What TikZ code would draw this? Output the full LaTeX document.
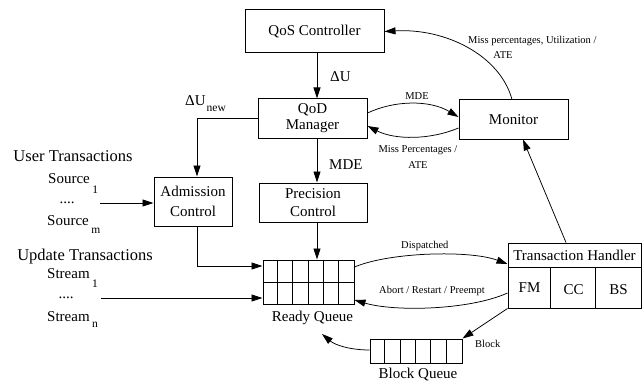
\documentclass[tikz,border=0pt]{standalone}
\usepackage{fontspec}
\setmainfont{Liberation Serif}
\usetikzlibrary{arrows.meta,calc}
\begin{document}
\begin{tikzpicture}[x=1pt,y=-1pt,
  box/.style={draw,line width=1pt,inner sep=0pt,align=center,font=\fontsize{15}{16}\selectfont},
  qbox/.style={draw,line width=1pt,inner sep=0pt},
  gridl/.style={line width=0.9pt},
  arr/.style={line width=0.9pt,-{Triangle[length=11pt,width=7pt]}},
  carr/.style={line width=0.75pt,-{Triangle[length=11pt,width=7pt]}},
  lbl/.style={font=\fontsize{15}{16}\selectfont,inner sep=0pt},
  head/.style={font=\fontsize{16.5}{18}\selectfont,inner sep=0pt},
  small/.style={font=\fontsize{10.5}{12}\selectfont,inner sep=0pt},
]
\useasboundingbox (0,0) rectangle (642,385);
\newcommand{\lowsub}[2]{\hspace{2.5pt}\raisebox{-#1pt}{\fontsize{11.5}{12}\selectfont #2}}

% boxes
\node[box,minimum width=139pt,minimum height=43pt] (qosc) at (314.5,31.5) {QoS Controller};
\node[box,minimum width=109pt,minimum height=39pt] (qod) at (312.5,118.5) {QoD\\Manager};
\node[box,minimum width=109pt,minimum height=39pt] (mon) at (513.5,119.5) {Monitor};
\node[box,minimum width=78pt,minimum height=49pt,font=\fontsize{15}{20}\selectfont] (adm) at (193,201.5) {Admission\\Control};
\node[box,minimum width=108pt,minimum height=39pt,font=\fontsize{15}{18}\selectfont] (prec) at (313,202.5) {Precision\\Control};

% ready queue
\node[qbox,minimum width=91pt,minimum height=44pt] (rq) at (308.5,282) {};
\draw[gridl] (rq.west) -- (rq.east);
\foreach \i in {1,...,5}
  \draw[gridl] ($(rq.north west)+(\i*15.17,0)$) -- ($(rq.south west)+(\i*15.17,0)$);
\node[lbl,anchor=base] (rql) at (312.5,321) {Ready Queue};

% block queue
\node[qbox,minimum width=92pt,minimum height=24pt] (bq) at (416,351) {};
\foreach \i in {1,...,5}
  \draw[gridl] ($(bq.north west)+(\i*15.33,0)$) -- ($(bq.south west)+(\i*15.33,0)$);
\node[lbl,anchor=base] (bql) at (418,378) {Block Queue};

% transaction handler
\node[qbox,minimum width=133pt,minimum height=65pt] (th) at (574.5,275.5) {};
\draw[gridl] ($(th.north west)+(0,25)$) -- ($(th.north east)+(0,25)$);
\draw[gridl] ($(th.north west)+(43,25)$) -- ($(th.south west)+(43,0)$);
\draw[gridl] ($(th.north west)+(88,25)$) -- ($(th.south west)+(88,0)$);
\node[lbl] (thl) at (574.5,255.5) {Transaction Handler};
\node[lbl] (fm) at (529.5,288) {FM};
\node[lbl] (cc) at (573.5,290) {CC};
\node[lbl] (bs) at (618.5,290) {BS};

% left labels
\node[head,anchor=base] (ut) at (73,161) {User Transactions};
\node[lbl,anchor=base west] (src1) at (48,183) {Source\lowsub{10}{1}};
\node[lbl,anchor=base] (dots1) at (67,203) {....};
\node[lbl,anchor=base west] (srcm) at (47,225) {Source\lowsub{8}{m}};
\node[head,anchor=base] (upd) at (85,260) {Update Transactions};
\node[lbl,anchor=base west] (st1) at (47,278) {Stream\lowsub{9}{1}};
\node[lbl,anchor=base] (dots2) at (66,298) {....};
\node[lbl,anchor=base west] (stn) at (47,321) {Stream\lowsub{6}{n}};

% arrow labels
\node[lbl,anchor=base west] (du) at (330,82) {ΔU};
\node[lbl,anchor=base west] (dun) at (185,106) {ΔU\hspace{1pt}\raisebox{-6pt}{\fontsize{11.5}{12}\selectfont new}};
\node[lbl,anchor=base west] (mde) at (329,169) {MDE};
\node[small,anchor=base west] (l1) at (468,44) {Miss percentages, Utilization /};
\node[small,anchor=base] (l1b) at (503,59) {ATE};
\node[small,anchor=base] (l2) at (417,100) {MDE};
\node[small,anchor=base] (l3) at (418,153) {Miss Percentages /};
\node[small,anchor=base] (l3b) at (418,168) {ATE};
\node[small,anchor=base west] (l4) at (401,248) {Dispatched};
\node[small,anchor=base west] (l5) at (379,293) {Abort / Restart / Preempt};
\node[small,anchor=base west] (l6) at (475,347) {Block};

% straight connectors
\coordinate (qa) at ($(qod.north)+(4.5,0)$);
\draw[arr] (qa |- qosc.south) -- (qa);
\coordinate (qb) at ($(qod.south)+(4.5,0)$);
\draw[arr] (qb) -- (qb |- prec.north);
\coordinate (pc) at ($(prec.south)+(4,0)$);
\draw[arr] (pc) -- (pc |- rq.north);
\draw[arr] (qod.west) -| ($(adm.north)+(4,0)$);
\coordinate (ad) at ($(adm.south)+(4,0)$);
\coordinate (rqin) at ($(rq.west)+(0,-16)$);
\draw[arr] (ad) |- (rqin);
\coordinate (s1) at (100,203);
\draw[arr] (s1) -- (s1 -| adm.west);
\coordinate (s2) at (101,298);
\draw[arr] (s2) -- (s2 -| rq.west);

% curved connectors
\draw[carr] ($(mon.north)+(-1.5,0)$) .. controls (500,55) and (445,28) .. (qosc.east);
\draw[carr] ($(qod.east)+(0,-5.5)$) .. controls (395,100) and (430,100) .. ($(mon.west)+(0,-2.5)$);
\draw[carr] ($(mon.west)+(0,8.5)$) .. controls (430,140) and (395,140) .. ($(qod.east)+(0,7.5)$);
\coordinate (tht) at ($(th.north)+(-8.5,0)$);
\draw[carr] (tht) -- ($(mon.south)+(9.5,0)$);
\draw[carr] ($(rq.east)+(0,-15)$) .. controls (390,252) and (470,250) .. ($(th.west)+(0,-11.5)$);
\draw[carr] ($(th.west)+(0,17.5)$) .. controls (470,310) and (395,312) .. ($(rq.east)+(0,18)$);
\draw[carr] (th.south west) -- (bq.north east);
\coordinate (bqend) at (322,334);
\draw[carr] ($(bq.west)+(0,-1)$) .. controls (350,350) and (335,345) .. (bqend);
\end{tikzpicture}
\end{document}
